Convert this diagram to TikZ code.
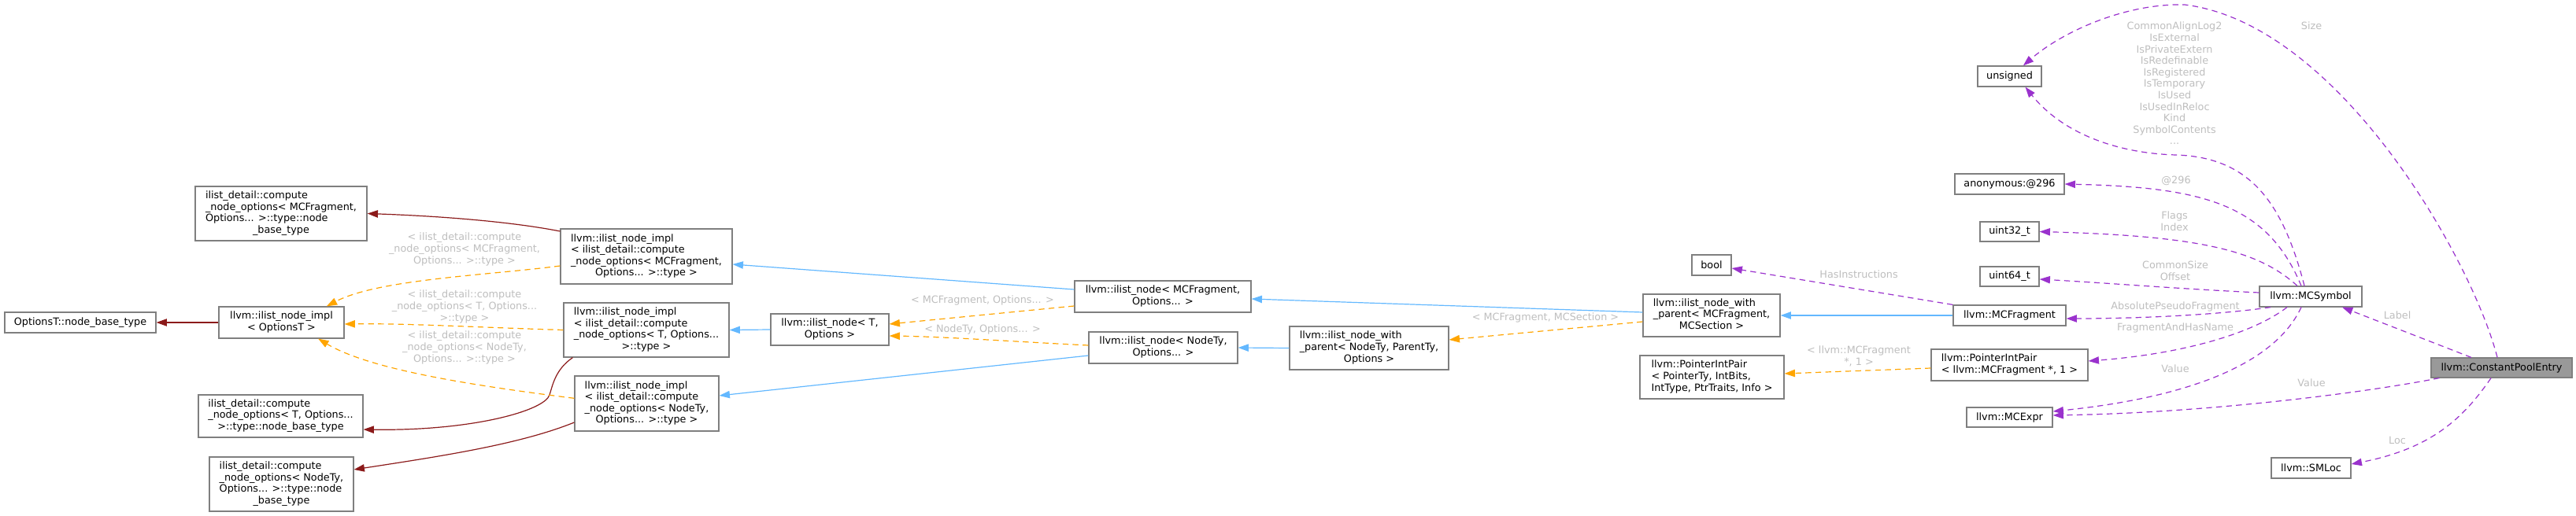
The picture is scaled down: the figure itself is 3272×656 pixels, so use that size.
\documentclass[tikz,border=0pt]{standalone}
\usepackage{fontspec}
\setmainfont{DejaVu Sans}
\usetikzlibrary{arrows.meta}
\definecolor{inhblue}{HTML}{63B8FF}
\definecolor{tmplorange}{HTML}{FFA500}
\definecolor{usepurple}{HTML}{9A32CD}
\definecolor{dredc}{HTML}{8B1A1A}
\definecolor{boxgray}{HTML}{7F7F7F}
\definecolor{rootfill}{HTML}{999999}
\definecolor{lblgray}{HTML}{BEBEBE}
\newcommand\dxfont{\fontsize{9.6}{10.95}\selectfont}
\newcommand\dxlast[1]{\multicolumn{1}{@{}c@{}}{#1}}
\begin{document}
\begin{tikzpicture}[x=0.75pt,y=-0.75pt,
  box/.style={draw=boxgray, line width=0.9pt, fill=white, inner sep=0pt, font=\dxfont},
  rootbox/.style={box, fill=rootfill},
  wh/.style 2 args={minimum width=#1*0.75pt, minimum height=#2*0.75pt},
  lbl/.style={text=lblgray, align=center, inner sep=0pt, font=\dxfont},
  conn/.style={line width=0.9pt, -{Triangle[length=10pt,width=7pt]}},
  inh/.style={conn, draw=inhblue},
  tm/.style={conn, draw=tmplorange, dash pattern=on 5.5pt off 4pt},
  us/.style={conn, draw=usepurple, dash pattern=on 5.5pt off 4pt},
  dr/.style={conn, draw=dredc}
]
\useasboundingbox (0,0) rectangle (3272,656);

% ---------- nodes ----------
\node[box, wh={192}{26}] (optT) at (102,410) {OptionsT::node\_base\_type};
\node[box, wh={159}{40}] (implOpt) at (357.5,410) {\begin{tabular}{@{}l@{}}llvm::ilist\_node\_impl\\\dxlast{< OptionsT >}\end{tabular}};
\node[box, wh={218}{69}] (nbtMC) at (357,271.5) {\begin{tabular}{@{}l@{}}ilist\_detail::compute\\\_node\_options< MCFragment,\\Options... >::type::node\\\dxlast{\_base\_type}\end{tabular}};
\node[box, wh={209}{54}] (nbtT) at (356.5,529) {\begin{tabular}{@{}l@{}}ilist\_detail::compute\\\_node\_options< T, Options...\\\dxlast{>::type::node\_base\_type}\end{tabular}};
\node[box, wh={183}{69}] (nbtNT) at (357.5,615.5) {\begin{tabular}{@{}l@{}}ilist\_detail::compute\\\_node\_options< NodeTy,\\Options... >::type::node\\\dxlast{\_base\_type}\end{tabular}};

\node[box, wh={218}{70}] (implMC) at (821,326) {\begin{tabular}{@{}l@{}}llvm::ilist\_node\_impl\\< ilist\_detail::compute\\\_node\_options< MCFragment,\\\dxlast{Options... >::type >}\end{tabular}};
\node[box, wh={210}{69}] (implT) at (821,419.5) {\begin{tabular}{@{}l@{}}llvm::ilist\_node\_impl\\< ilist\_detail::compute\\\_node\_options< T, Options...\\\dxlast{>::type >}\end{tabular}};
\node[box, wh={183}{70}] (implNT) at (821.5,513) {\begin{tabular}{@{}l@{}}llvm::ilist\_node\_impl\\< ilist\_detail::compute\\\_node\_options< NodeTy,\\\dxlast{Options... >::type >}\end{tabular}};

\node[box, wh={150}{40}] (nodeT) at (1054,419) {\begin{tabular}{@{}l@{}}llvm::ilist\_node< T,\\\dxlast{Options >}\end{tabular}};
\node[box, wh={224}{40}] (nodeMC) at (1477,377) {\begin{tabular}{@{}l@{}}llvm::ilist\_node< MCFragment,\\\dxlast{Options... >}\end{tabular}};
\node[box, wh={189}{40}] (nodeNT) at (1477.5,442) {\begin{tabular}{@{}l@{}}llvm::ilist\_node< NodeTy,\\\dxlast{Options... >}\end{tabular}};
\node[box, wh={202}{55}] (wpNT) at (1739,442.5) {\begin{tabular}{@{}l@{}}llvm::ilist\_node\_with\\\_parent< NodeTy, ParentTy,\\\dxlast{Options >}\end{tabular}};
\node[box, wh={174}{54}] (wpMC) at (2174,401) {\begin{tabular}{@{}l@{}}llvm::ilist\_node\_with\\\_parent< MCFragment,\\\dxlast{MCSection >}\end{tabular}};
\node[box, wh={50}{26}] (boolN) at (2174,337) {bool};
\node[box, wh={183}{55}] (pipGen) at (2174.5,479.5) {\begin{tabular}{@{}l@{}}llvm::PointerIntPair\\< PointerTy, IntBits,\\\dxlast{IntType, PtrTraits, Info >}\end{tabular}};

\node[box, wh={81}{26}] (unsignedN) at (2552.5,97) {unsigned};
\node[box, wh={139}{26}] (anon) at (2552.5,234) {anonymous:@296};
\node[box, wh={75}{25}] (u32) at (2552.5,294.5) {uint32\_t};
\node[box, wh={75}{25}] (u64) at (2552.5,351.5) {uint64\_t};
\node[box, wh={143}{26}] (mcfrag) at (2552.5,401) {llvm::MCFragment};
\node[box, wh={199}{40}] (pipMC) at (2552.5,464) {\begin{tabular}{@{}l@{}}llvm::PointerIntPair\\\dxlast{< llvm::MCFragment *, 1 >}\end{tabular}};
\node[box, wh={109}{25}] (mcexpr) at (2552.5,530.5) {llvm::MCExpr};
\node[box, wh={130}{26}] (mcsym) at (2935,377) {llvm::MCSymbol};
\node[box, wh={101}{26}] (smloc) at (2935.5,595) {llvm::SMLoc};
\node[rootbox, wh={179}{25}] (cpe) at (3177.5,467.5) {llvm::ConstantPoolEntry};

% ---------- connectors ----------
\draw[dr] (implOpt.west) -- (optT.east);
\draw[dr] ([yshift=24pt]implMC.west) .. controls (640,280) and (540,274) .. (nbtMC.east);
\draw[dr] ([xshift=9pt]implT.south west) .. controls (705,470) and (702,490) .. (698,502) .. controls (692,522) and (600,548) .. ([yshift=-12.75pt]nbtT.east);
\draw[dr] ([yshift=-18pt]implNT.west) .. controls (660,565) and (560,580) .. ([yshift=13.9pt]nbtNT.east);

\draw[tm] ([yshift=-9pt]implMC.west) .. controls (620,350) and (480,355) .. ([xshift=43pt]implOpt.north);
\draw[tm] (implT.west) .. controls (600,416) and (520,411) .. ([yshift=-1.5pt]implOpt.east);
\draw[tm] ([yshift=5pt]implNT.west) .. controls (600,490) and (470,470) .. ([xshift=35pt]implOpt.south);

\draw[inh] ([yshift=6.75pt]nodeMC.west) -- ([yshift=-7.5pt]implMC.east);
\draw[inh] (nodeT.west) -- (implT.east);
\draw[inh] ([yshift=-7.5pt]nodeNT.west) -- ([yshift=7.5pt]implNT.east);
\draw[tm] ([yshift=-9pt]nodeMC.west) -- ([yshift=5.25pt]nodeT.east);
\draw[tm] ([yshift=2.25pt]nodeNT.west) .. controls (1300,435) and (1200,428) .. ([yshift=-6pt]nodeT.east);
\draw[inh] ([yshift=3pt]wpMC.west) -- ([yshift=-2.25pt]nodeMC.east);
\draw[inh] (wpNT.west) -- (nodeNT.east);
\draw[tm] ([yshift=-6pt]wpMC.west) -- ([yshift=7.9pt]wpNT.east);
\draw[inh] (mcfrag.west) -- (wpMC.east);
\draw[us] (mcfrag.north west) -- ([yshift=-3pt]boolN.east);
\draw[tm] ([yshift=-3pt]pipMC.west) -- ([yshift=3.4pt]pipGen.east);

\draw[us] ([xshift=-6pt]mcsym.north) .. controls (2900,260) and (2860,200) .. (2764,197) .. controls (2690,195) and (2620,170) .. ([xshift=15pt]unsignedN.south);
\draw[us] ([xshift=-9pt]mcsym.north) .. controls (2880,260) and (2800,238) .. (anon.east);
\draw[us] ([xshift=-12.75pt]mcsym.north) .. controls (2870,320) and (2800,300) .. (u32.east);
\draw[us] ([yshift=3.75pt]mcsym.west) .. controls (2780,368) and (2680,360) .. ([yshift=-2.6pt]u64.east);
\draw[us] ([xshift=-38.25pt]mcsym.south) .. controls (2820,400) and (2720,405) .. ([yshift=-3pt]mcfrag.east);
\draw[us] ([xshift=-22.5pt]mcsym.south) .. controls (2860,425) and (2770,450) .. ([yshift=3.75pt]pipMC.east);
\draw[us] ([xshift=-9pt]mcsym.south) .. controls (2900,440) and (2830,500) .. ([yshift=5.6pt]mcexpr.east);
\draw[us] ([xshift=8.25pt]cpe.south west) .. controls (3000,500) and (2800,525) .. ([yshift=1.9pt]mcexpr.east);
\draw[us] ([xshift=-28.9pt]cpe.north) -- ([xshift=30pt]mcsym.south);
\draw[us] ([xshift=-10.1pt]cpe.south) .. controls (3130,530) and (3090,570) .. ([yshift=3.75pt]smloc.east);
\draw[us] ([xshift=-4.1pt]cpe.north) .. controls (3140,330) and (2970,30) .. (2775,6) .. controls (2700,4) and (2620,40) .. ([xshift=13pt]unsignedN.north);

% ---------- labels ----------
\node[lbl] (l1) at (590,317) {< ilist\_detail::compute\\\_node\_options< MCFragment,\\Options... >::type >};
\node[lbl] (l2) at (590,390) {< ilist\_detail::compute\\\_node\_options< T, Options...\\>::type >};
\node[lbl] (l3) at (590,442) {< ilist\_detail::compute\\\_node\_options< NodeTy,\\Options... >::type >};
\node[lbl] (l4) at (1248,382) {< MCFragment, Options... >};
\node[lbl] (l5) at (1248,419) {< NodeTy, Options... >};
\node[lbl] (l6) at (1963,404) {< MCFragment, MCSection >};
\node[lbl] (l7) at (2361,349) {HasInstructions};
\node[lbl] (l8) at (2361,453) {< llvm::MCFragment\\*, 1 >};
\node[lbl] (l9) at (2762,106) {CommonAlignLog2\\IsExternal\\IsPrivateExtern\\IsRedefinable\\IsRegistered\\IsTemporary\\IsUsed\\IsUsedInReloc\\Kind\\SymbolContents\\...};
\node[lbl] (l10) at (2936,33) {Size};
\node[lbl] (l11) at (2764,230) {@296};
\node[lbl] (l12) at (2762,281) {Flags\\Index};
\node[lbl] (l13) at (2763,344) {CommonSize\\Offset};
\node[lbl] (l14) at (2763,390) {AbsolutePseudoFragment};
\node[lbl] (l15) at (2763,417) {FragmentAndHasName};
\node[lbl] (l16) at (2763,469) {Value};
\node[lbl] (l17) at (2936,487) {Value};
\node[lbl] (l18) at (3045,401) {Label};
\node[lbl] (l19) at (3045,560) {Loc};
\end{tikzpicture}
\end{document}
